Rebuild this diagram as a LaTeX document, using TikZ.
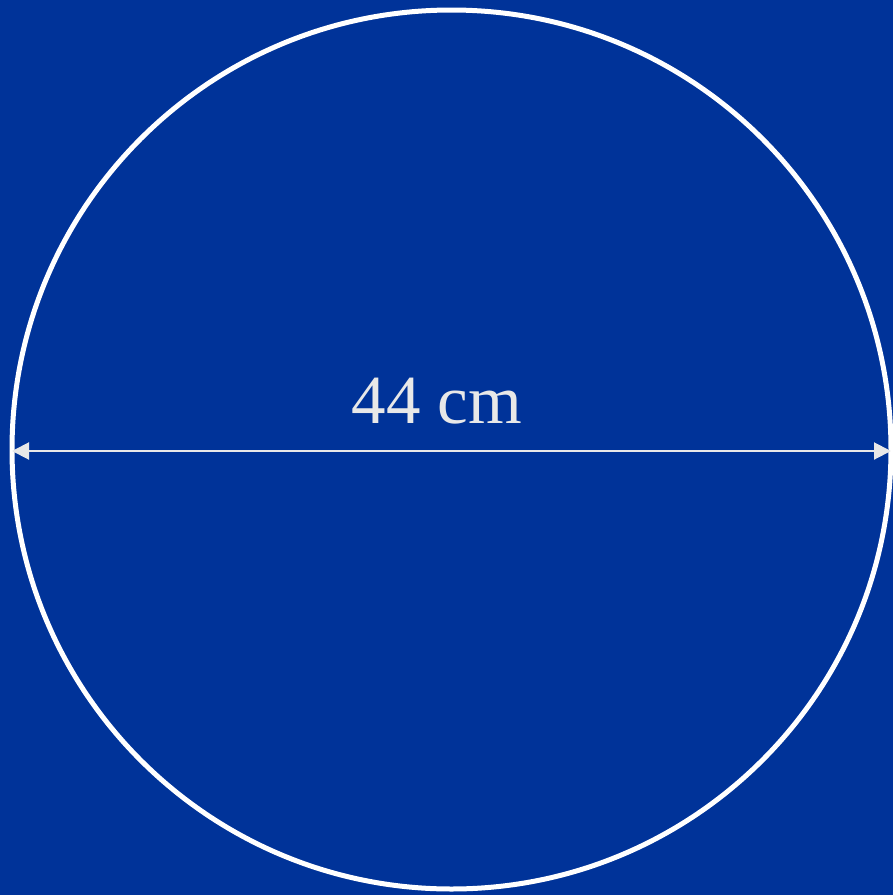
\documentclass[tikz,border=0pt]{standalone}
\usepackage{fontspec}
\setmainfont{Liberation Serif}
\usetikzlibrary{arrows.meta}
\definecolor{bg}{RGB}{0,51,153}
\definecolor{lbl}{RGB}{232,232,232}
\tikzset{
  ring/.style={draw=white, line width=5pt},
  dim/.style={draw=lbl, line width=2pt, {Triangle[length=17pt,width=17pt]}-{Triangle[length=17pt,width=17pt]}},
  lab/.style={text=lbl, font=\fontsize{69}{80}\selectfont, inner sep=0pt, anchor=base}
}
\begin{document}
\begin{tikzpicture}[x=1pt,y=-1pt]
\fill[bg] (0,0) rectangle (893,895);
\useasboundingbox (0,0) rectangle (893,895);
\node[ring, circle, minimum size=879pt, inner sep=0pt] (c) at (451.5,449.5) {};
\coordinate (l) at (12,451);
\coordinate (r) at (891,451);
\draw[dim] (l) -- (r);
\node[lab] (t) at (437,423) {44 cm};
\end{tikzpicture}
\end{document}
